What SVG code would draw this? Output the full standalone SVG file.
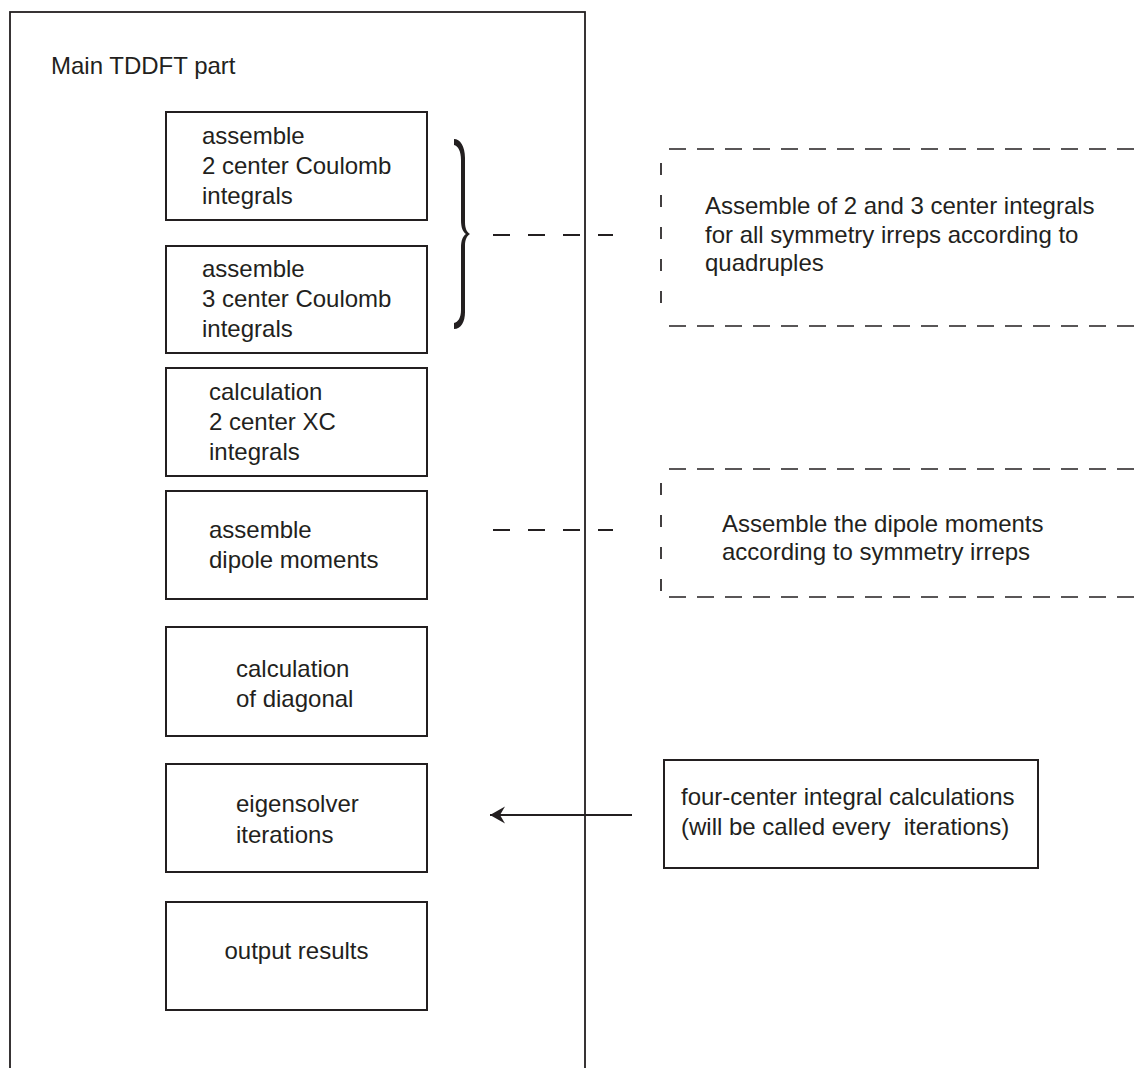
<svg xmlns="http://www.w3.org/2000/svg" width="1137" height="1068" viewBox="0 0 1137 1068">
<style>
text{font-family:"Liberation Sans",Arial,sans-serif;font-size:24px;fill:#231f20}
.box{fill:#fff;stroke:#231f20;stroke-width:2}
.dashh{fill:none;stroke:#231f20;stroke-width:1.7;stroke-dasharray:17 11}
.dashv{fill:none;stroke:#231f20;stroke-width:1.7;stroke-dasharray:12 20}
.conn{fill:none;stroke:#231f20;stroke-width:2}
.c{text-anchor:middle}
</style>
<defs>
<marker id="ah" markerWidth="16" markerHeight="18" refX="15" refY="8.5" orient="auto" markerUnits="userSpaceOnUse">
<path d="M0,0 L15,8.5 L0,17 L5,8.5 Z" fill="#231f20"/>
</marker>
</defs>
<rect width="1137" height="1068" fill="#fff"/>
<g id="main">
<rect x="10" y="12" width="575" height="1070" fill="none" stroke="#231f20" stroke-width="1.8"/>
<text x="51" y="74">Main TDDFT part</text>
</g>
<g id="n1"><rect class="box" x="166" y="112" width="261" height="108"/>
<text x="202" y="144">assemble</text><text x="202" y="174">2 center Coulomb</text><text x="202" y="204">integrals</text></g>
<g id="n2"><rect class="box" x="166" y="246" width="261" height="107"/>
<text x="202" y="277">assemble</text><text x="202" y="307">3 center Coulomb</text><text x="202" y="337">integrals</text></g>
<g id="n3"><rect class="box" x="166" y="368" width="261" height="108"/>
<text x="209" y="400">calculation</text><text x="209" y="430">2 center XC</text><text x="209" y="460">integrals</text></g>
<g id="n4"><rect class="box" x="166" y="491" width="261" height="108"/>
<text x="209" y="538">assemble</text><text x="209" y="568">dipole moments</text></g>
<g id="n5"><rect class="box" x="166" y="627" width="261" height="109"/>
<text x="236" y="677">calculation</text><text x="236" y="707">of diagonal</text></g>
<g id="n6"><rect class="box" x="166" y="764" width="261" height="108"/>
<text x="236" y="812">eigensolver</text><text x="236" y="843">iterations</text></g>
<g id="n7"><rect class="box" x="166" y="902" width="261" height="108"/>
<text class="c" x="296.5" y="959">output results</text></g>
<g id="brace">
<path d="M454,139 C460,139 465,146 465,158 L465,222 C465,229 467,232 470,234 C467,236 465,239 465,246 L465,312 C465,322 461,329 454,329 L454,323 C458,322 461,318 461,310 L461,248 C461,240 463,236 466,234 C463,232 461,228 461,220 L461,160 C461,151 458,146 454,145 Z" fill="#231f20"/>
</g>
<g id="note1">
<path class="dashh" d="M669,149 H1137 M669,326 H1137"/>
<path class="dashv" d="M661,163 V320"/>
<text x="705" y="214">Assemble of 2 and 3 center integrals</text>
<text x="705" y="243">for all symmetry irreps according to</text>
<text x="705" y="271">quadruples</text>
</g>
<g id="note2">
<path class="dashh" d="M669,469 H1137 M669,597 H1137"/>
<path class="dashv" d="M661,483 V592"/>
<text x="722" y="532">Assemble the dipole moments</text>
<text x="722" y="560">according to symmetry irreps</text>
</g>
<g id="n8"><rect class="box" x="664" y="760" width="374" height="108"/>
<text x="681" y="805">four-center integral calculations</text>
<text x="681" y="835" xml:space="preserve">(will be called every  iterations)</text></g>
<g id="connectors">
<path class="conn" d="M493,235 H613" stroke-dasharray="17 18"/>
<path class="conn" d="M493,530 H613" stroke-dasharray="17 18"/>
<path class="conn" d="M632,815 H490" marker-end="url(#ah)"/>
</g>
</svg>
